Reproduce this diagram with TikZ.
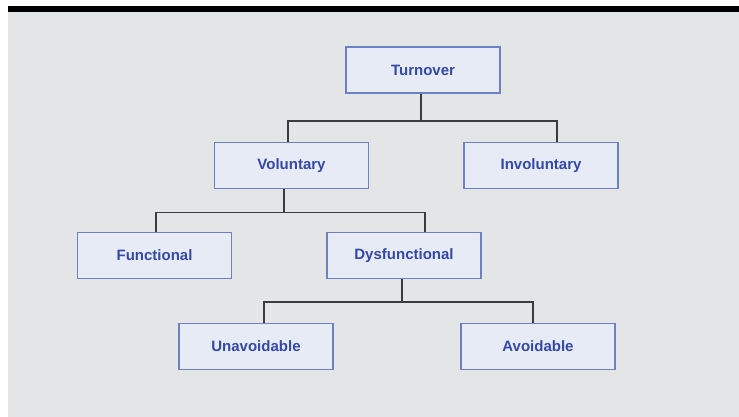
\documentclass[tikz,border=0pt]{standalone}
\usepackage{fontspec}
\setmainfont{Liberation Sans}
\definecolor{bg}{RGB}{228,229,231}
\definecolor{boxfill}{RGB}{231,235,245}
\definecolor{boxborder}{RGB}{108,128,196}
\definecolor{txt}{RGB}{52,72,165}
\definecolor{lin}{RGB}{60,60,60}
\begin{document}
\begin{tikzpicture}[x=1pt,y=-1pt,
  box/.style={draw=boxborder, fill=boxfill, line width=1.2pt, minimum width=154pt, minimum height=46pt, inner sep=0pt, font=\fontsize{15}{17}\selectfont\bfseries, text=txt},
  conn/.style={draw=lin, line width=1.4pt}]
\useasboundingbox (0,0) rectangle (739,417);
\fill[white] (0,0) rectangle (739,417);
\fill[bg] (8,12) rectangle (739,417);
\fill[black] (8,6.5) rectangle (739,12);

\node[box] (turn)  at (423,70)    {Turnover};
\node[box] (vol)   at (291.5,165.5) {Voluntary};
\node[box] (invol) at (541,165.5) {Involuntary};
\node[box] (func)  at (154.5,255.5) {Functional};
\node[box] (dys)   at (404,255.5) {Dysfunctional};
\node[box] (unav)  at (256,346.5) {Unavoidable};
\node[box] (avoid) at (538,346.5) {Avoidable};

\coordinate (j1) at (421,121);
\coordinate (j2) at (284,212.5);
\coordinate (j3) at (402,302);

\draw[conn] ([xshift=-2pt]turn.south) -- (j1);
\draw[conn] ([xshift=-3.5pt]vol.north) |- (j1) -| ([xshift=16pt]invol.north);
\draw[conn] ([xshift=-7.5pt]vol.south) -- (j2);
\draw[conn] ([xshift=1.5pt]func.north) |- (j2) -| ([xshift=21pt]dys.north);
\draw[conn] ([xshift=-2pt]dys.south) -- (j3);
\draw[conn] ([xshift=8pt]unav.north) |- (j3) -| ([xshift=-5pt]avoid.north);
\end{tikzpicture}
\end{document}
